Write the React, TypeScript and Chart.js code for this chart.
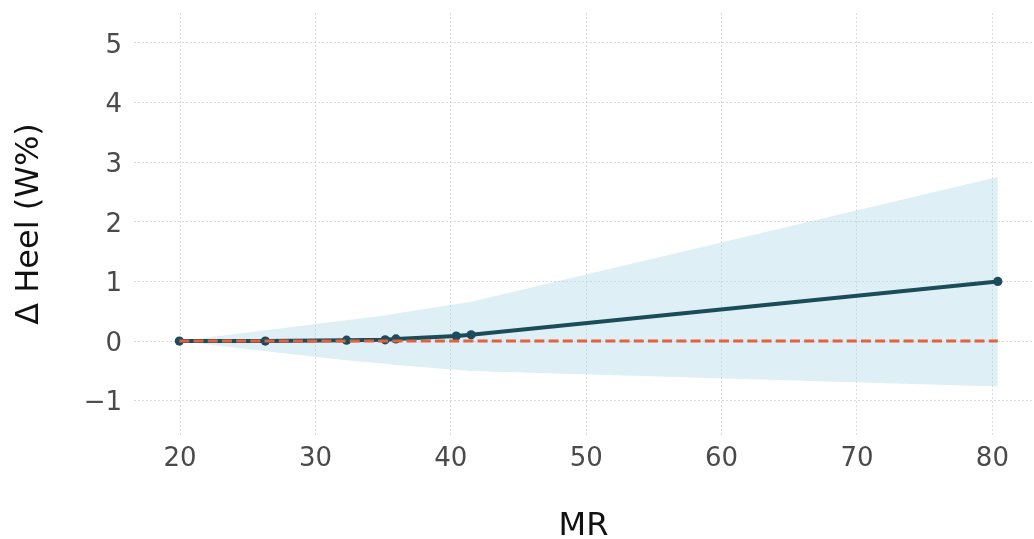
import React, { useEffect, useRef } from "react";
import { Chart, registerables } from "chart.js";

Chart.register(...registerables);

// MR values (x) of the fitted points
const mrValues = [19.95, 26.3, 32.3, 35.15, 35.95, 40.4, 41.5, 80.4];
// Δ Heel (W%) mean estimate
const deltaHeel = [0.0, 0.0, 0.015, 0.02, 0.035, 0.085, 0.105, 1.0];
// confidence band
const bandUpper = [0.0, 0.18, 0.35, 0.43, 0.46, 0.62, 0.66, 2.75];
const bandLower = [0.0, -0.17, -0.32, -0.38, -0.4, -0.48, -0.5, -0.76];
// reference level
const referenceLevel = 0;
// tick labels
const xTicks = [20, 30, 40, 50, 60, 70, 80];
const yTicks = [-1, 0, 1, 2, 3, 4, 5];

const FONT = "'DejaVu Sans', sans-serif";

const zeroPad = (s: any) => {
  s.paddingTop = 0;
  s.paddingBottom = 0;
  s.paddingLeft = 0;
  s.paddingRight = 0;
};

export default function App() {
  const ref = useRef<HTMLCanvasElement | null>(null);

  useEffect(() => {
    if (!ref.current) return;
    const pts = (ys: number[]) => mrValues.map((x, i) => ({ x, y: ys[i] }));
    const gridColor = "#d2d2d2";
    const chart = new Chart(ref.current, {
      type: "line",
      data: {
        datasets: [
          {
            label: "zero",
            data: [
              { x: mrValues[0], y: referenceLevel },
              { x: mrValues[mrValues.length - 1], y: referenceLevel },
            ],
            borderColor: "#e5603f",
            borderWidth: 3,
            borderDash: [10, 4.2],
            pointRadius: 0,
            fill: false,
            order: 0,
          },
          {
            label: "effect",
            data: pts(deltaHeel),
            borderColor: "#1b4c5a",
            backgroundColor: "#1b4c5a",
            borderWidth: 4,
            pointRadius: 4.6,
            pointBorderWidth: 0,
            pointBackgroundColor: "#1b4c5a",
            fill: false,
            order: 1,
          },
          {
            label: "upper",
            data: pts(bandUpper),
            borderWidth: 0,
            borderColor: "rgba(0,0,0,0)",
            backgroundColor: "rgba(173,216,230,0.4)",
            pointRadius: 0,
            fill: "+1",
            order: 2,
          },
          {
            label: "lower",
            data: pts(bandLower),
            borderWidth: 0,
            borderColor: "rgba(0,0,0,0)",
            pointRadius: 0,
            fill: false,
            order: 3,
          },
        ],
      },
      options: {
        responsive: false,
        animation: false,
        layout: { autoPadding: false, padding: { top: 13, right: 1, left: 0, bottom: 0 } },
        plugins: {
          legend: { display: false },
          tooltip: { enabled: false },
        },
        scales: {
          x: {
            type: "linear",
            min: 16.6,
            max: 83.0,
            afterFit: (s: any) => {
              s.height = 104;
              zeroPad(s);
            },
            afterBuildTicks: (s: any) => {
              s.ticks = xTicks.map((v) => ({ value: v }));
            },
            grid: {
              color: gridColor,
              lineWidth: 0.8,
              drawTicks: false,
            },
            border: { display: false, dash: [2, 2] },
            ticks: {
              padding: 9,
              color: "#4a4a4a",
              font: { family: FONT, size: 26 },
              maxRotation: 0,
            },
            title: {
              display: true,
              text: "MR",
              color: "#111111",
              font: { family: FONT, size: 32, lineHeight: 0.8 },
              padding: { top: 0, bottom: 0 },
            },
          },
          y: {
            type: "linear",
            min: -1.575,
            max: 5.5,
            afterFit: (s: any) => {
              s.width = 134;
              zeroPad(s);
            },
            afterBuildTicks: (s: any) => {
              s.ticks = yTicks.map((v) => ({ value: v }));
            },
            grid: {
              color: gridColor,
              lineWidth: 0.8,
              drawTicks: false,
            },
            border: { display: false, dash: [2, 2] },
            ticks: {
              padding: 12,
              labelOffset: 3,
              color: "#4a4a4a",
              font: { family: FONT, size: 26 },
              callback: (v: any) => String(v).replace("-", "\u2212"),
            },
            title: {
              display: true,
              text: "\u0394 Heel (W%)",
              color: "#111111",
              font: { family: FONT, size: 32, lineHeight: 1.2 },
              padding: { top: 10, bottom: 0 },
            },
          },
        },
      },
    });
    return () => chart.destroy();
  }, []);

  return (
    <div style={{ position: "absolute", left: 0, top: 0, width: 1034, height: 539, background: "#ffffff" }}>
      <canvas ref={ref} width={1034} height={539} />
    </div>
  );
}
